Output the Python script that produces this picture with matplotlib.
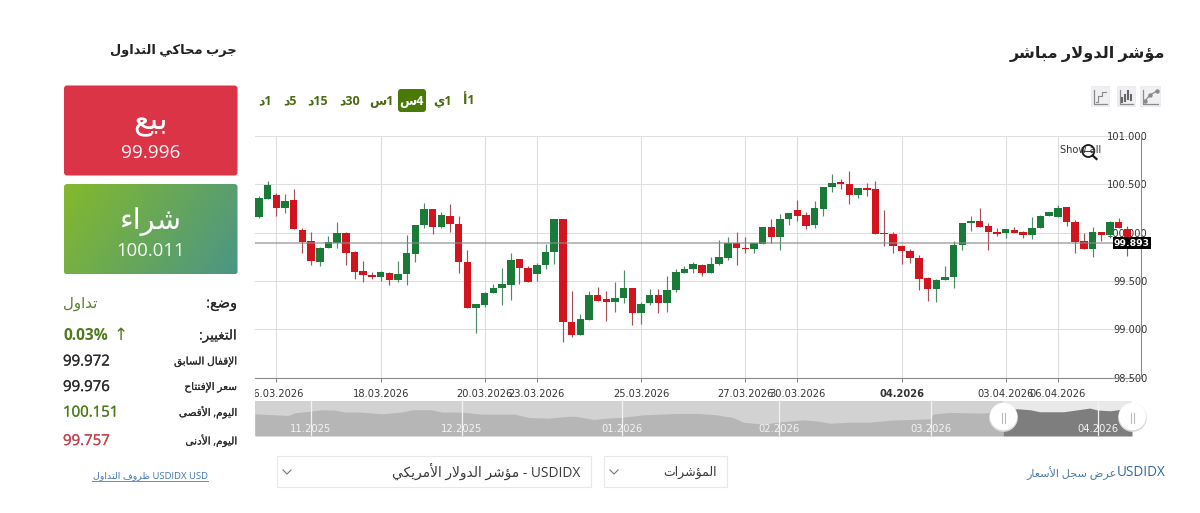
import re
import unicodedata
import numpy as np
import matplotlib
matplotlib.use("Agg")
import matplotlib.pyplot as plt
import matplotlib.patheffects as pe
from matplotlib.patches import FancyBboxPatch, Rectangle, Circle
from matplotlib.transforms import Bbox

# ---------- data ----------
opens = [100.159,100.348,100.390,100.252,100.338,100.028,99.910,99.693,99.845,99.897,99.993,99.797,99.600,99.566,99.538,99.586,99.510,99.576,99.776,100.079,
         100.245,100.062,100.172,100.093,99.697,99.217,99.252,99.372,99.431,99.459,99.724,99.634,99.569,99.669,99.800,100.138,99.072,98.938,99.097,99.355,
         99.310,99.286,99.324,99.428,99.169,99.269,99.355,99.269,99.403,99.583,99.621,99.669,99.583,99.672,99.734,99.897,99.841,99.834,99.883,100.059,
         99.955,100.141,100.238,100.183,100.079,100.245,100.472,100.521,100.500,100.393,100.462,100.452,99.997,99.986,99.862,99.814,99.734,99.528,99.414,99.514,
         99.541,99.872,100.100,100.117,100.066,100.010,99.997,100.031,100.010,99.972,100.045,100.172,100.162,100.262,100.110,99.910,99.831,100.007,99.972,100.107,100.041]
highs = [100.383,100.534,100.407,100.397,100.448,100.052,100.010,99.855,99.962,100.107,100.003,99.810,99.710,99.590,99.603,99.593,99.703,99.972,100.083,100.303,
         100.245,100.210,100.297,100.176,99.824,99.266,99.386,99.469,99.631,99.786,99.724,99.655,99.690,99.883,100.138,100.138,99.397,99.155,99.393,99.441,
         99.393,99.493,99.614,99.428,99.283,99.414,99.421,99.552,99.628,99.659,99.697,99.676,99.745,99.924,99.952,100.003,99.959,99.897,100.059,100.145,
         100.193,100.200,100.341,100.210,100.331,100.472,100.603,100.559,100.641,100.466,100.517,100.538,100.234,100.003,99.872,99.834,99.769,99.538,99.521,99.659,
         99.914,100.100,100.172,100.252,100.097,100.052,100.038,100.062,100.017,100.159,100.186,100.210,100.283,100.262,100.131,99.993,100.059,100.007,100.124,100.152,100.069]
lows = [100.148,100.348,100.172,100.200,100.034,99.786,99.666,99.655,99.845,99.841,99.669,99.517,99.493,99.517,99.503,99.455,99.490,99.462,99.693,100.045,
        99.986,100.052,100.003,99.586,99.217,98.959,99.234,99.372,99.255,99.300,99.466,99.486,99.497,99.624,99.679,98.869,98.921,98.938,99.097,99.297,
        99.086,99.176,99.276,99.048,99.055,99.252,99.172,99.183,99.386,99.583,99.586,99.552,99.583,99.662,99.717,99.669,99.793,99.793,99.883,99.893,
        99.821,100.083,100.124,100.034,100.045,100.176,100.424,100.452,100.297,100.362,100.379,99.990,99.859,99.793,99.676,99.686,99.407,99.297,99.279,99.514,
        99.428,99.821,100.017,100.062,99.821,99.962,99.948,100.000,99.948,99.938,100.045,100.172,100.162,100.072,99.786,99.831,99.752,99.917,99.941,100.052,99.759]
closes = [100.355,100.490,100.252,100.324,100.034,99.907,99.703,99.845,99.903,99.993,99.793,99.593,99.566,99.541,99.590,99.510,99.569,99.786,100.083,100.245,
          100.062,100.183,100.086,99.693,99.217,99.266,99.372,99.428,99.472,99.714,99.638,99.486,99.669,99.797,100.138,99.072,98.938,99.103,99.355,99.297,
          99.279,99.328,99.428,99.169,99.266,99.355,99.269,99.410,99.590,99.628,99.672,99.583,99.679,99.752,99.897,99.845,99.828,99.890,100.059,99.955,
          100.138,100.200,100.176,100.069,100.255,100.472,100.517,100.503,100.393,100.466,100.445,99.990,99.983,99.866,99.810,99.738,99.524,99.414,99.514,99.541,
          99.876,100.100,100.121,100.062,100.010,99.986,100.038,100.000,99.972,100.045,100.172,100.210,100.252,100.107,99.907,99.831,100.010,99.972,100.110,100.052,99.959]
current_price = 99.893
y_ticks = [98.5, 99.0, 99.5, 100.0, 100.5, 101.0]
x_tick_pos = [2, 14, 26, 32, 44, 56, 62, 74, 86, 92]
x_tick_labels = ["16.03.2026","18.03.2026","20.03.2026","23.03.2026","25.03.2026",
                 "27.03.2026","30.03.2026","04.2026","03.04.2026","06.04.2026"]

nav_pos = [0,3.8,4.56,6.08,7.6,9.12,10.26,12.16,14.4,16.7,17.9,20.1,21.3,23.6,25.8,29.6,31.2,33.4,35.9,36.7,38.6,40.1,42.0,44.3,48.1,50.4,
           52.6,54.5,55.7,56.8,58.0,59.5,62.5,64.0,65.6,67.8,70.1,72.4,77.0,77.3,79.2,83.0,85.3,86.9,88.4,89.5,92.2,95.2,96.1,97.5,100]
nav_val = [99.0,98.5,99.3,99.7,100.2,100.1,99.5,99.5,99.0,99.5,100.2,100.2,99.5,99.5,98.9,98.9,97.9,97.7,98.3,98.2,97.3,97.7,98.0,98.7,99.1,99.1,
           98.7,97.9,96.5,96.2,95.9,96.5,97.2,96.9,96.2,96.5,96.5,97.1,97.5,98.9,99.4,99.2,99.9,100.5,100.2,99.6,99.6,100.7,100.1,99.9,100.7]
nav_month_pos = [6.39, 23.6, 41.85, 59.75, 77.1, 96.1]
nav_month_labels = ["11.2025","12.2025","01.2026","02.2026","03.2026","04.2026"]
nav_selection = [85.3, 100]

timeframes = ["1أ","1ي","4س","1س","30د","15د","5د","1د"]
timeframe_x = [469,443,412,381,349.5,318,290,265]
active_timeframe = "4س"

stat_labels = ["وضع:","التغيير:","الإقفال السابق","سعر الإفتتاح","اليوم, الأقصى","اليوم, الأدنى"]
stat_values = ["تداول","0.03%","99.972","99.976","100.151","99.757"]
sell_price = "99.996"
buy_price = "100.011"

# ---------- minimal Arabic shaping: matplotlib draws no RTL or joining itself ----------
FORMS, LIGS = {}, {}
for cp in list(range(0xFE70, 0xFEFD)):
    d = unicodedata.decomposition(chr(cp)).split()
    if len(d) < 2 or not d[0].startswith("<"):
        continue
    kind = d[0].strip("<>")
    codes = "".join(chr(int(h, 16)) for h in d[1:])
    if len(codes) == 1:
        FORMS.setdefault(codes, {})[kind] = chr(cp)
    elif len(codes) == 2 and codes[0] == "\u0644":
        LIGS.setdefault(codes, {})[kind] = chr(cp)

def joins_next(ch):
    return ch in FORMS and "initial" in FORMS[ch]

def shape(s):
    out = []
    i = 0
    while i < len(s):
        ch = s[i]
        if ch not in FORMS:
            out.append(ch); i += 1; continue
        prev_join = i > 0 and joins_next(s[i-1])
        pair = s[i:i+2]
        if pair in LIGS:
            out.append(LIGS[pair]["final" if prev_join else "isolated"]); i += 2; continue
        next_join = i + 1 < len(s) and s[i+1] in FORMS
        f = FORMS[ch]
        if prev_join and next_join and "medial" in f: k = "medial"
        elif prev_join and "final" in f: k = "final"
        elif next_join and "initial" in f: k = "initial"
        else: k = "isolated"
        out.append(f.get(k, ch)); i += 1
    return "".join(out)

LTR = r"[0-9A-Za-z.%]+(?: [0-9A-Za-z.%]+)*"
def rtl(s):
    parts = re.split("(" + LTR + ")", shape(s))
    vis = [p if re.fullmatch(LTR, p) else p[::-1] for p in parts]
    return "".join(vis[::-1])

# ---------- figure ----------
W, H = 1200, 513
fig = plt.figure(figsize=(12, 5.13), dpi=100, facecolor="white")
def axes_px(x0, y0, x1, y1, **kw):
    return fig.add_axes([x0/W, 1-y1/H, (x1-x0)/W, (y1-y0)/H], **kw)
px = lambda v: v*0.72
SANS = ["Open Sans", "DejaVu Sans"]
MONO = "DejaVu Sans"

# ---------- candlestick chart ----------
ax = axes_px(255, 136, 1140.6, 377.7, zorder=2)
ax.set_facecolor("none")
x = np.arange(len(opens))
o, h, l, c = map(np.array, (opens, highs, lows, closes))
up = c >= o
body_col = np.where(up, "#1a7a38", "#d2141f")
wick_col = np.where(up, "#4f8a66", "#a8505a")
ax.set_axisbelow(True)
ax.grid(True, color="#dedee1", lw=0.8)
ax.vlines(x, l, h, colors=wick_col, lw=0.85, zorder=2)
ax.bar(x, np.abs(c-o), bottom=np.minimum(o, c), width=0.86, color=body_col, zorder=3)
ax.set_xlim((255-259)/8.683, (1140.6-259)/8.683)
ax.set_ylim(98.5, 101)
ax.axhline(current_price, xmax=0.97, color="#8a8a8a", lw=1.1, alpha=0.75, zorder=4)
ax.yaxis.tick_right()
ax.set_yticks(y_ticks, [f"{v:.3f}" for v in y_ticks], fontsize=px(9.9), color="#333333", family=MONO, ha="right")
ax.set_xticks(x_tick_pos, x_tick_labels, fontsize=px(9.9), color="#333333", family=MONO)
ax.tick_params(axis="y", length=0, pad=px(7.5))
ax.tick_params(axis="x", length=px(4), width=0.75, color="#888888", pad=px(7))
for s in ("left", "top"):
    ax.spines[s].set_visible(False)
for s in ("right", "bottom"):
    ax.spines[s].set_color("#8c8c8c"); ax.spines[s].set_linewidth(0.8)
for lab in ax.get_xticklabels():
    if lab.get_text() == "04.2026":
        lab.set_fontweight("bold")
first = ax.get_xticklabels()[0]
first.set_clip_on(True)
first.set_clip_box(Bbox([[255, 0], [W, H]]))
ax.annotate(f"{current_price:.3f}", xy=(1132, H-243), xycoords="figure pixels",
            ha="center", va="center", color="white",
            fontsize=px(9.3), fontweight="bold", family=MONO, zorder=6,
            bbox=dict(boxstyle="square,pad=0.12", fc="black", ec="black", lw=0))

# ---------- navigator ----------
nav = axes_px(255, 401, 1132, 436, zorder=3)
nav.set_xlim(0, 100); nav.set_ylim(92.4, 102.8)
nav.set_xticks([]); nav.set_yticks([])
for s in nav.spines.values():
    s.set_visible(False)
nav.set_facecolor("#d2d2d2")
nav.axvspan(nav_selection[0], nav_selection[1], color="#e9e9e9", lw=0)
np_pos, np_val = np.array(nav_pos), np.array(nav_val)
nav.fill_between(np_pos, 92.4, np_val, where=np_pos <= nav_selection[0], color="#b6b6b6", lw=0, interpolate=False)
nav.fill_between(np_pos, 92.4, np_val, where=np_pos >= nav_selection[0], color="#7e7e7e", lw=0, interpolate=False)
for p, t in zip(nav_month_pos, nav_month_labels):
    nav.axvline(p, color="#f2f2f2", lw=0.9)
    nav.text(p, 94.5, t, ha="center", va="center", color="#f4f4f4", fontsize=px(10), family=MONO)
nav.scatter(nav_selection, [98]*2, s=430, color="#d8d8d8", clip_on=False, zorder=5, lw=0)
nav.scatter(nav_selection, [98.2]*2, s=390, color="white", clip_on=False, zorder=6, lw=0)

# ---------- page furniture, in pixels ----------
ui = fig.add_axes([0, 0, 1, 1], zorder=5)
ui.set_facecolor("none"); ui.axis("off")
ui.set_xlim(0, W); ui.set_ylim(H, 0)

def T(x0, y0, s, size, color="#222222", ha="right", weight="normal", family=SANS, va="center", semi=0, **kw):
    t = ui.text(x0, y0, s, fontsize=px(size), color=color, ha=ha, va=va, fontweight=weight, family=family, **kw)
    if semi:
        t.set_path_effects([pe.withStroke(linewidth=semi, foreground=color)])
    return t

def button(x0, y0, x1, y1, **kw):
    p = FancyBboxPatch((x0+3, y0+3), x1-x0-6, y1-y0-6, boxstyle="round,pad=3,rounding_size=3", lw=0, **kw)
    ui.add_patch(p)
    return p

for hx in nav_selection:
    cx = 255 + hx/100*877
    ui.plot([cx-1.5, cx-1.5], [413, 423], color="#bbbbbb", lw=0.8)
    ui.plot([cx+1.5, cx+1.5], [413, 423], color="#bbbbbb", lw=0.8)

# titles
T(1165, 54, rtl("مؤشر الدولار مباشر"), 16.1, weight="bold")
T(237, 50.5, rtl("جرب محاكي التداول"), 13, weight="bold")

# Show all + magnifier
T(1060.5, 150, "Show all", 9.9, color="#333333", ha="left", family=MONO)
ui.add_patch(Circle((1088.3, 151), 6, fill=False, ec="#1a1a1a", lw=1.3))
ui.plot([1083.5, 1093], [151, 151], color="#444444", lw=0.8)
ui.plot([1092.6, 1096.5], [155.5, 159], color="#1a1a1a", lw=1.6)

# timeframe buttons
for tx, tf in zip(timeframe_x, timeframes):
    if tf == active_timeframe:
        button(398, 89, 426, 112, fc="#4a7a05")
        T(tx, 101, rtl(tf), 12.5, color="white", ha="center", weight="bold")
    else:
        T(tx, 101, rtl(tf), 12.5, color="#4a6a10", ha="center", weight="bold")

# chart type icons
for bx0, bx1 in ((1091, 1109), (1117, 1135), (1140, 1160)):
    ui.add_patch(Rectangle((bx0, 86), bx1-bx0, 20, fc="#f0f0f4", ec="#e8e8ec", lw=0.5))
    ui.plot([bx0+3, bx0+3, bx1-2], [90, 103.5, 103.5], color="#8a8a8a", lw=0.9)
ui.plot([1096, 1098, 1098, 1102, 1102, 1106], [102, 102, 96, 96, 92, 92], color="#888888", lw=0.8)
for dx, t, b in ((1122, 98, 102), (1125, 95, 101), (1128, 91, 99), (1131, 95, 100)):
    ui.plot([dx, dx], [t, b], color="#666666", lw=1.5)
ui.plot([1145, 1150, 1157], [101, 95, 91], color="#8a8a8a", lw=0.9, marker="o", ms=2.2)

# sell / buy
button(64, 85.5, 237.5, 175.5, fc="#dc3447")
T(150.5, 122, rtl("بيع"), 31, color="white", ha="center")
T(150.5, 153, sell_price, 19, color="#fff6f7", ha="center")

buy = button(64, 184, 237.5, 274.5, fc="none")
gx, gy = np.meshgrid(np.linspace(0, 1, 180), np.linspace(0, 1, 90))
gt = (0.75*gx + 0.25*gy)[..., None]
grad = (1-gt)*np.array([0x84, 0xb9, 0x2c])/255 + gt*np.array([0x4b, 0x95, 0x86])/255
im = ui.imshow(grad, extent=(64, 237.5, 274.5, 184), aspect="auto", zorder=1)
im.set_clip_path(buy)
ui.set_xlim(0, W); ui.set_ylim(H, 0)
T(150.5, 221, rtl("شراء"), 29, color="white", ha="center", zorder=3)
T(150.5, 251.5, buy_price, 18.5, color="#f6fbf2", ha="center", zorder=3)

# stats
rows_y = [304, 336, 362, 387.5, 413, 441.5]
val_col = ["#5c7f2e", "#4d7a1a", "#2a2a2a", "#2a2a2a", "#4d7a1a", "#c2444e"]
val_size = [15, 15.5, 15, 15, 15, 15]
lab_size = [14.5, 13.5, 10.5, 10.5, 10.5, 10.5]
for yy, lb, v, vc, vs, ls in zip(rows_y, stat_labels, stat_values, val_col, val_size, lab_size):
    T(237, yy, rtl(lb), ls, color="#2a2a2a", semi=0.08)
    is_ar = not re.search(r"\d", v)
    T(63, yy, rtl(v) if is_ar else v, vs, color=vc, ha="left",
      weight="bold" if v.endswith("%") else "normal", semi=0 if is_ar or v.endswith("%") else 0.2)
T(121, 335, "↑", 17, color="#4d7a1a", ha="center", family=["DejaVu Sans"])

# bottom links
T(208, 475.5, rtl("USDIDX USD ظروف التداول"), 9.5, color="#3f78b0")
ui.plot([92, 208], [481, 481], color="#5f8fbf", lw=0.7)
T(1165, 473, "USDIDX", 13.5, color="#34689f")
T(1117, 473, rtl("عرض سجل الأسعار"), 11.3, color="#4a78a8")

# dropdowns
for (bx0, bx1, label, sz) in ((277, 591, "USDIDX - مؤشر الدولار الأمريكي", 13.8), (604, 727, "المؤشرات", 12.5)):
    ui.add_patch(Rectangle((bx0, 456), bx1-bx0, 31, fc="white", ec="#e8e8e8", lw=0.8))
    T(bx1-10.5, 472, rtl(label), sz, color="#3a3a3a")
    ui.plot([bx0+6, bx0+10, bx0+14], [470, 474, 470], color="#777777", lw=0.8)

fig.savefig("out.png", dpi=100, facecolor="white")
